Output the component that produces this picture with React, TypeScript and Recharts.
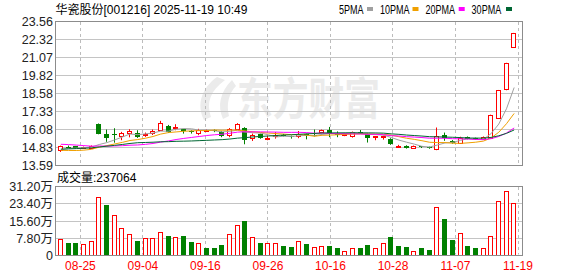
import {
  ComposedChart,
  Bar,
  Line,
  XAxis,
  YAxis,
} from 'recharts'

const W = 578
const H = 276

const DATES = [
  '08-20', '08-21', '08-22', '08-25', '08-26', '08-27', '08-28', '08-29', '09-01', '09-02',
  '09-03', '09-04', '09-05', '09-08', '09-09', '09-10', '09-11', '09-12', '09-15', '09-16',
  '09-17', '09-18', '09-19', '09-22', '09-23', '09-24', '09-25', '09-26', '09-29', '09-30',
  '10-09', '10-10', '10-13', '10-14', '10-15', '10-16', '10-17', '10-20', '10-21', '10-22',
  '10-23', '10-24', '10-27', '10-28', '10-29', '10-30', '10-31', '11-03', '11-04', '11-05',
  '11-06', '11-07', '11-10', '11-11', '11-12', '11-13', '11-14', '11-17', '11-18', '11-19',
]

const OPENS = [
  14.64, 14.9, 14.92, 14.8, 14.82, 16.43, 15.8, 15.74, 15.62, 15.85,
  15.87, 15.72, 15.85, 16.08, 16.31, 16.22, 16.13, 15.96, 15.85, 15.98,
  16.04, 15.92, 15.7, 16.15, 16.2, 15.46, 15.76, 15.48, 15.66, 15.72,
  15.64, 15.62, 15.8, 15.72, 15.9, 16.03, 15.8, 15.68, 15.62, 15.88,
  15.76, 15.55, 15.58, 15.45, 14.88, 14.97, 14.81, 14.92, 14.86, 14.73,
  15.71, 15.29, 15.15, 15.57, 15.5, 15.42, 15.48, 16.9, 18.86, 21.8,
]

const HIGHS = [
  14.97, 14.97, 14.94, 14.9, 14.98, 16.5, 16.08, 16.17, 15.92, 16.1,
  16.03, 15.87, 16.08, 16.68, 16.4, 16.45, 16.13, 16.03, 16.13, 16.08,
  16.08, 15.97, 16.18, 16.52, 16.24, 15.8, 15.8, 15.66, 15.9, 15.78,
  15.66, 15.98, 15.8, 16.08, 16.08, 16.26, 15.95, 15.82, 15.94, 16.05,
  15.8, 15.62, 15.66, 15.48, 15.02, 14.99, 14.97, 14.94, 14.9, 16.22,
  15.87, 15.35, 15.58, 15.6, 15.52, 15.6, 17.11, 18.82, 20.7, 22.77,
]

const LOWS = [
  14.53, 14.79, 14.76, 14.77, 14.78, 15.75, 15.23, 15.17, 15.34, 15.54,
  15.5, 15.57, 15.7, 15.99, 15.85, 16.03, 15.8, 15.8, 15.69, 15.92,
  15.9, 15.55, 15.55, 16.05, 15.06, 15.29, 15.44, 15.34, 15.45, 15.6,
  15.45, 15.48, 15.4, 15.6, 15.85, 15.55, 15.55, 15.62, 15.52, 15.78,
  15.18, 15.34, 15.38, 15.02, 14.8, 14.76, 14.78, 14.8, 14.75, 14.65,
  15.3, 15.1, 15.12, 15.4, 15.36, 15.4, 15.45, 16.85, 18.8, 21.75,
]

const CLOSES = [
  14.92, 14.86, 14.78, 14.86, 14.92, 15.8, 15.52, 15.7, 15.85, 15.99,
  15.57, 15.78, 15.99, 16.54, 15.94, 16.26, 15.99, 15.92, 16.08, 16.02,
  15.96, 15.6, 16.12, 16.47, 15.38, 15.73, 15.48, 15.52, 15.72, 15.66,
  15.55, 15.8, 15.64, 15.68, 16.03, 15.85, 15.74, 15.76, 15.9, 15.84,
  15.52, 15.6, 15.62, 15.06, 14.94, 14.8, 14.94, 14.84, 14.82, 15.64,
  15.52, 15.15, 15.5, 15.43, 15.4, 15.55, 17.11, 18.82, 20.7, 22.77,
]

// closes of the 29 sessions before 08-20, needed for the averages at the left edge
const PRE_CLOSES = [
  14.3, 14.25, 14.15, 14.05, 13.95, 13.9, 13.98, 14.0, 13.92, 14.0,
  15.3, 15.45, 15.62, 15.7, 15.58, 15.66, 15.5, 15.42, 15.35, 15.22,
  14.95, 14.8, 14.62, 14.35, 14.28, 14.45, 14.6, 14.73, 14.7,
]

// volume in 万 shares
const VOLUMES = [
  7.3, 5.5, 5.5, 5.0, 6.4, 26.4, 22.9, 18.2, 12.3, 9.9,
  6.4, 7.75, 7.75, 10.8, 8.7, 8.2, 8.7, 5.9, 5.5, 3.6,
  3.2, 4.6, 9.9, 14.0, 15.5, 8.2, 5.5, 5.5, 5.5, 4.3,
  3.7, 6.7, 5.0, 3.7, 4.1, 4.1, 3.2, 2.1, 3.5, 3.2,
  4.6, 3.2, 5.8, 8.2, 4.1, 3.7, 2.1, 3.2, 2.7, 21.8,
  16.5, 6.9, 10.4, 4.1, 3.2, 3.5, 9.0, 24.6, 29.2, 23.7064,
]

const X_TICKS = ['08-25', '09-04', '09-16', '09-26', '10-16', '10-28', '11-07', '11-19']
const PRICE_TICKS = [13.59, 14.83, 16.08, 17.33, 18.58, 19.82, 21.07, 22.32, 23.56]
const VOL_TICKS = [0, 7.8, 15.6, 23.4, 31.2]

const MAS = [
  { n: 5, key: 'ma5', label: '5PMA', color: '#a0a0a0' },
  { n: 10, key: 'ma10', label: '10PMA', color: '#f0a000' },
  { n: 20, key: 'ma20', label: '20PMA', color: '#ff00ff' },
  { n: 30, key: 'ma30', label: '30PMA', color: '#006633' },
]

const RED = '#ff0000'
const GREEN = '#008000'
const GRID = '#c4c4c4'
const DASH = '#bcbcbc'
const BORDER = '#8c8c8c'
const FONT = '"Liberation Sans", Arial, "Noto Sans CJK SC", sans-serif'
const CJK = '"Noto Sans CJK SC", sans-serif'

const allCloses = [...PRE_CLOSES, ...CLOSES]

function movingAvg(n: number, i: number) {
  const end = PRE_CLOSES.length + i
  let sum = 0
  for (let k = end - n + 1; k <= end; k++) sum += allCloses[k]
  return sum / n
}

const rows = DATES.map((date, i) => {
  const prev = i === 0 ? PRE_CLOSES[PRE_CLOSES.length - 1] : CLOSES[i - 1]
  const row: Record<string, any> = {
    date,
    open: OPENS[i],
    high: HIGHS[i],
    low: LOWS[i],
    close: CLOSES[i],
    range: [LOWS[i], HIGHS[i]],
    vol: VOLUMES[i],
    volUp: CLOSES[i] >= prev,
  }
  MAS.forEach(m => {
    row[m.key] = movingAvg(m.n, i)
  })
  return row
})

// plot frame (pixel rows/cols of the border)
const PLOT_L = 56
const PLOT_R = 523
const PRICE_TOP = 21.5
const PRICE_BOTTOM = 165.5
const VOL_TOP = 186.5
const VOL_BOTTOM = 255.5

const X_PAD = { left: 1, right: 5 }
const PRICE_DOMAIN = [PRICE_TICKS[0], PRICE_TICKS[PRICE_TICKS.length - 1]]
const VOL_DOMAIN = [0, VOL_TICKS[VOL_TICKS.length - 1]]

const layer: React.CSSProperties = { position: 'absolute', left: 0, top: 0 }

function Candle(props: any) {
  const { x, y, width, height, payload } = props
  if (x == null || y == null || !payload) return null
  const top = Math.min(y, y + height)
  const bottom = Math.max(y, y + height)
  const { open, close, high, low } = payload
  const toY = (p: number) => top + ((high - p) / (high - low)) * (bottom - top)
  const cx = Math.floor(x + width / 2) + 0.5
  const yHigh = toY(high)
  const yLow = toY(low)
  if (close >= open) {
    const bTop = Math.round(toY(close)) + 0.5
    const bBot = Math.max(Math.round(toY(open)) + 0.5, bTop + 1)
    return (
      <g>
        {bTop > yHigh && <line x1={cx} x2={cx} y1={yHigh} y2={bTop} stroke={RED} />}
        {yLow > bBot && <line x1={cx} x2={cx} y1={bBot} y2={yLow} stroke={RED} />}
        <rect x={cx - 2} y={bTop} width={4} height={bBot - bTop} fill="#fff" stroke={RED} />
      </g>
    )
  }
  const bTop = Math.round(toY(open))
  const bH = Math.max(1, Math.round(toY(close)) - bTop)
  return (
    <g>
      <line x1={cx} x2={cx} y1={yHigh} y2={yLow} stroke={GREEN} />
      <rect x={cx - 2.5} y={bTop} width={5} height={bH} fill={GREEN} />
    </g>
  )
}

function VolBar(props: any) {
  const { x, y, width, height, payload } = props
  if (x == null || y == null || !payload) return null
  const cx = Math.floor(x + width / 2) + 0.5
  const yT = Math.round(y)
  const yB = Math.round(y + height)
  if (payload.volUp) {
    return (
      <rect x={cx - 2} y={yT + 0.5} width={4} height={Math.max(1, yB - yT - 1)} fill="#fff" stroke={RED} />
    )
  }
  return <rect x={cx - 2.5} y={yT} width={5} height={yB - yT} fill={GREEN} />
}

// y tick: label on the left, 1px grid row across the panel (filled, not stroked)
function ValueTick({ y, payload, fmt }: any) {
  const gy = Math.floor(y)
  return (
    <g>
      <rect x={PLOT_L} y={gy} width={PLOT_R - PLOT_L} height={1} fill={GRID} />
      <text x={53} y={y} dy="0.36em" textAnchor="end" fontSize={12.5} fill="#222" fontFamily={FONT}>
        {fmt(Number(payload.value))}
      </text>
    </g>
  )
}

// x tick: dashed 1px column through the panel, optional date label below
function DateTick({ x, payload, top, bottom, label }: any) {
  const gx = Math.floor(x)
  const dashes = []
  for (let d = Math.ceil(top); d < bottom - 1; d += 6) {
    dashes.push(
      <rect key={d} x={gx} y={d} width={1} height={Math.min(3, bottom - 1 - d)} fill={DASH} />,
    )
  }
  return (
    <g>
      {dashes}
      {label && (
        <text x={x} y={269.5} textAnchor="middle" fontSize={12} fill={RED} fontFamily={FONT}>
          {payload.value}
        </text>
      )}
    </g>
  )
}

function Frame({ top, bottom }: { top: number; bottom: number }) {
  const t = Math.floor(top)
  const b = Math.floor(bottom)
  const l = PLOT_L - 1
  const r = PLOT_R - 1
  return (
    <g>
      <rect x={l} y={t} width={r - l + 1} height={1} fill={BORDER} />
      <rect x={l} y={b} width={r - l + 1} height={1} fill={BORDER} />
      <rect x={l} y={t} width={1} height={b - t + 1} fill={BORDER} />
      <rect x={r} y={t} width={1} height={b - t + 1} fill={BORDER} />
    </g>
  )
}

const priceFmt = (v: number) => v.toFixed(2)
const volFmt = (v: number) => (v === 0 ? '0' : v.toFixed(2) + '万')

export default function App() {
  const lastVol = Math.round(VOLUMES[VOLUMES.length - 1] * 10000)
  const legendX = [339, 380, 425.5, 471.6]
  const legendW = [24.5, 29.6, 29.6, 29.6]
  const swatchX = [367, 412.5, 458.7, 506]

  const priceMargin = { top: PRICE_TOP, right: W - PLOT_R, bottom: H - PRICE_BOTTOM }
  const volMargin = { top: VOL_TOP, right: W - PLOT_R, bottom: H - VOL_BOTTOM }

  return (
    <div
      style={{
        position: 'absolute',
        left: 0,
        top: 0,
        width: W,
        height: H,
        background: '#fff',
        overflow: 'hidden',
      }}
    >
      {/* watermark */}
      <svg width={W} height={H} style={layer}>
        <path d="M217 77 C202 88 196 104 204 120 L211 117 C206 103 210 91 225 80 Z" fill="#ebebeb" />
        <path d="M232 80 C220 92 217 106 223 119 L229 116 C226 104 229 93 236 86 Z" fill="#ebebeb" />
        <text
          x={237}
          y={115}
          fontSize={44}
          fontWeight={700}
          fill="#ebebeb"
          fontFamily={CJK}
          textLength={143}
          lengthAdjust="spacingAndGlyphs"
        >
          东方财富
        </text>
      </svg>

      {/* price axes + grid */}
      <div style={layer}>
        <ComposedChart
          width={W}
          height={H}
          data={rows}
          margin={{ ...priceMargin, bottom: priceMargin.bottom - 1, left: 0 }}
        >
          <XAxis
            dataKey="date"
            ticks={X_TICKS}
            interval={0}
            height={1}
            padding={X_PAD}
            axisLine={false}
            tickLine={false}
            tick={<DateTick top={PRICE_TOP} bottom={PRICE_BOTTOM} />}
          />
          <YAxis
            domain={PRICE_DOMAIN}
            ticks={PRICE_TICKS}
            interval={0}
            width={PLOT_L}
            axisLine={false}
            tickLine={false}
            tick={<ValueTick fmt={priceFmt} />}
          />
          <Line dataKey="close" stroke="none" dot={false} activeDot={false} isAnimationActive={false} />
        </ComposedChart>
      </div>

      {/* candles + moving averages */}
      <div style={layer}>
        <ComposedChart width={W} height={H} data={rows} margin={{ ...priceMargin, left: PLOT_L }}>
          <XAxis dataKey="date" hide padding={X_PAD} />
          <YAxis hide domain={PRICE_DOMAIN} />
          <Bar dataKey="range" barSize={5} shape={<Candle />} isAnimationActive={false} />
          {MAS.map(m => (
            <Line
              key={m.key}
              type="linear"
              dataKey={m.key}
              stroke={m.color}
              strokeWidth={1}
              dot={false}
              activeDot={false}
              isAnimationActive={false}
            />
          ))}
        </ComposedChart>
      </div>

      {/* volume axes + grid */}
      <div style={layer}>
        <ComposedChart width={W} height={H} data={rows} margin={{ ...volMargin, bottom: 0, left: 0 }}>
          <XAxis
            dataKey="date"
            ticks={X_TICKS}
            interval={0}
            height={H - VOL_BOTTOM}
            padding={X_PAD}
            axisLine={false}
            tickLine={false}
            tick={<DateTick top={VOL_TOP} bottom={VOL_BOTTOM} label />}
          />
          <YAxis
            domain={VOL_DOMAIN}
            ticks={VOL_TICKS}
            interval={0}
            width={PLOT_L}
            axisLine={false}
            tickLine={false}
            tick={<ValueTick fmt={volFmt} />}
          />
          <Line dataKey="vol" stroke="none" dot={false} activeDot={false} isAnimationActive={false} />
        </ComposedChart>
      </div>

      {/* volume bars */}
      <div style={layer}>
        <ComposedChart width={W} height={H} data={rows} margin={{ ...volMargin, left: PLOT_L }}>
          <XAxis dataKey="date" hide padding={X_PAD} />
          <YAxis hide domain={VOL_DOMAIN} />
          <Bar dataKey="vol" barSize={5} shape={<VolBar />} isAnimationActive={false} />
        </ComposedChart>
      </div>

      {/* frame, title, legend */}
      <svg width={W} height={H} style={{ ...layer, pointerEvents: 'none' }}>
        <Frame top={PRICE_TOP} bottom={PRICE_BOTTOM} />
        <Frame top={VOL_TOP} bottom={VOL_BOTTOM} />
        <text x={55.5} y={14} fontSize={12} fill="#000" fontFamily={FONT}>
          华瓷股份[001216] 2025-11-19 10:49
        </text>
        {MAS.map((m, i) => (
          <g key={m.key}>
            <text
              x={legendX[i]}
              y={14}
              fontSize={12}
              fill="#000"
              fontFamily={FONT}
              textLength={legendW[i]}
              lengthAdjust="spacingAndGlyphs"
            >
              {m.label}
            </text>
            <rect x={swatchX[i]} y={7} width={6} height={4} fill={m.color} />
          </g>
        ))}
        <text x={57} y={182} fontSize={12} fill="#000" fontFamily={FONT}>
          成交量:{lastVol}
        </text>
      </svg>
    </div>
  )
}
